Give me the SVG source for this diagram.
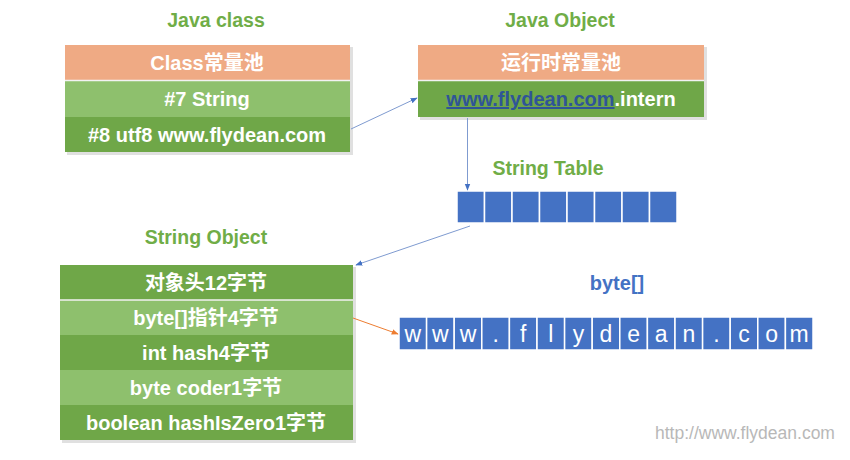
<svg xmlns="http://www.w3.org/2000/svg" width="850" height="460" viewBox="0 0 850 460">
<defs>
<style>
.t{font-family:"Liberation Sans","Noto Sans CJK SC",sans-serif;font-weight:bold;font-size:20px;text-anchor:middle;}
.w{fill:#ffffff;}
.lbl{fill:#70AD47;font-size:19.5px;}
.or{fill:#EFAA84;}
.lg{fill:#8EC06D;}
.dg{fill:#6FA748;}
.sep{stroke:#f2f2f2;stroke-width:1.5;}
.cell{fill:#4472C4;stroke:#ffffff;stroke-width:1.5;}
.ch{font-family:"Liberation Sans",sans-serif;font-size:23px;fill:#ffffff;text-anchor:middle;}
.shadow{fill:#000;opacity:0.12;}
</style>
<marker id="ab" viewBox="0 0 10 10" refX="9" refY="5" markerWidth="7" markerHeight="7" orient="auto"><path d="M0,1 L10,5 L0,9 z" fill="#4472C4"/></marker>
<marker id="ao" viewBox="0 0 10 10" refX="9" refY="5" markerWidth="7" markerHeight="7" orient="auto"><path d="M0,1 L10,5 L0,9 z" fill="#ED7D31"/></marker>
</defs>
<rect width="850" height="460" fill="#ffffff"/>

<g id="java-class">
<text class="t lbl" x="216" y="27">Java class</text>
<rect class="shadow" x="67" y="47" width="286" height="108"/>
<rect class="or" x="65" y="45" width="285" height="35"/>
<rect class="lg" x="65" y="81" width="285" height="36"/>
<rect class="dg" x="65" y="117" width="285" height="35"/>
<line class="sep" x1="65" y1="80.5" x2="350" y2="80.5"/>
<text class="t w" x="207" y="70">Class常量池</text>
<text class="t w" x="207" y="106">#7 String</text>
<text class="t w" x="207" y="142">#8 utf8 www.flydean.com</text>
</g>

<g id="java-object">
<text class="t lbl" x="560" y="27">Java Object</text>
<rect class="shadow" x="420" y="47" width="287" height="73"/>
<rect class="or" x="418" y="45" width="286" height="35"/>
<rect class="dg" x="418" y="81" width="286" height="36"/>
<line class="sep" x1="418" y1="80.5" x2="704" y2="80.5"/>
<text class="t w" x="561" y="70">运行时常量池</text>
<text class="t" x="561" y="106"><tspan fill="#2F5597" text-decoration="underline">www.flydean.com</tspan><tspan fill="#ffffff">.intern</tspan></text>
</g>

<g id="string-table">
<text class="t lbl" x="548" y="175">String Table</text>
<rect class="cell" x="457" y="191" width="27.5" height="32"/>
<rect class="cell" x="484.5" y="191" width="27.5" height="32"/>
<rect class="cell" x="512" y="191" width="27.5" height="32"/>
<rect class="cell" x="539.5" y="191" width="27.5" height="32"/>
<rect class="cell" x="567" y="191" width="27.5" height="32"/>
<rect class="cell" x="594.5" y="191" width="27.5" height="32"/>
<rect class="cell" x="622" y="191" width="27.5" height="32"/>
<rect class="cell" x="649.5" y="191" width="27.5" height="32"/>
</g>

<g id="string-object">
<text class="t lbl" x="206" y="244">String Object</text>
<rect class="shadow" x="62" y="267" width="294" height="176"/>
<rect class="dg" x="60" y="265" width="293" height="35"/>
<rect class="lg" x="60" y="300" width="293" height="35"/>
<rect class="dg" x="60" y="335" width="293" height="35"/>
<rect class="lg" x="60" y="370" width="293" height="35"/>
<rect class="dg" x="60" y="405" width="293" height="35"/>
<line class="sep" x1="60" y1="300" x2="353" y2="300"/>
<text class="t w" x="206" y="290">对象头12字节</text>
<text class="t w" x="206" y="325">byte[]指针4字节</text>
<text class="t w" x="206" y="360">int hash4字节</text>
<text class="t w" x="206" y="395">byte coder1字节</text>
<text class="t w" x="206" y="430">boolean hashIsZero1字节</text>
</g>

<g id="byte-array">
<text class="t" x="617" y="290" fill="#4472C4" font-size="19.5">byte[]</text>
<g>
<rect class="cell" x="399" y="317" width="27.6" height="33"/>
<rect class="cell" x="426.6" y="317" width="27.6" height="33"/>
<rect class="cell" x="454.2" y="317" width="27.6" height="33"/>
<rect class="cell" x="481.8" y="317" width="27.6" height="33"/>
<rect class="cell" x="509.4" y="317" width="27.6" height="33"/>
<rect class="cell" x="537" y="317" width="27.6" height="33"/>
<rect class="cell" x="564.6" y="317" width="27.6" height="33"/>
<rect class="cell" x="592.2" y="317" width="27.6" height="33"/>
<rect class="cell" x="619.8" y="317" width="27.6" height="33"/>
<rect class="cell" x="647.4" y="317" width="27.6" height="33"/>
<rect class="cell" x="675" y="317" width="27.6" height="33"/>
<rect class="cell" x="702.6" y="317" width="27.6" height="33"/>
<rect class="cell" x="730.2" y="317" width="27.6" height="33"/>
<rect class="cell" x="757.8" y="317" width="27.6" height="33"/>
<rect class="cell" x="785.4" y="317" width="27.6" height="33"/>
</g>
<text class="ch" x="412.8" y="342">w</text>
<text class="ch" x="440.4" y="342">w</text>
<text class="ch" x="468" y="342">w</text>
<text class="ch" x="495.6" y="342">.</text>
<text class="ch" x="523.2" y="342">f</text>
<text class="ch" x="550.8" y="342">l</text>
<text class="ch" x="578.4" y="342">y</text>
<text class="ch" x="606" y="342">d</text>
<text class="ch" x="633.6" y="342">e</text>
<text class="ch" x="661.2" y="342">a</text>
<text class="ch" x="688.8" y="342">n</text>
<text class="ch" x="716.4" y="342">.</text>
<text class="ch" x="744" y="342">c</text>
<text class="ch" x="771.6" y="342">o</text>
<text class="ch" x="799.2" y="342">m</text>
</g>

<g id="connectors" fill="none" stroke-width="1">
<line x1="351" y1="129" x2="417" y2="98" stroke="#7F9BD0" marker-end="url(#ab)"/>
<line x1="467.5" y1="118" x2="467.5" y2="190" stroke="#7F9BD0" marker-end="url(#ab)"/>
<line x1="470" y1="226" x2="356" y2="265" stroke="#7F9BD0" marker-end="url(#ab)"/>
<line x1="353" y1="318" x2="398" y2="334" stroke="#ED7D31" marker-end="url(#ao)"/>
</g>

<text x="655" y="439" font-family="Liberation Sans, Arial, sans-serif" font-size="17.5" fill="#b8b8b8">http://www.flydean.com</text>
</svg>
